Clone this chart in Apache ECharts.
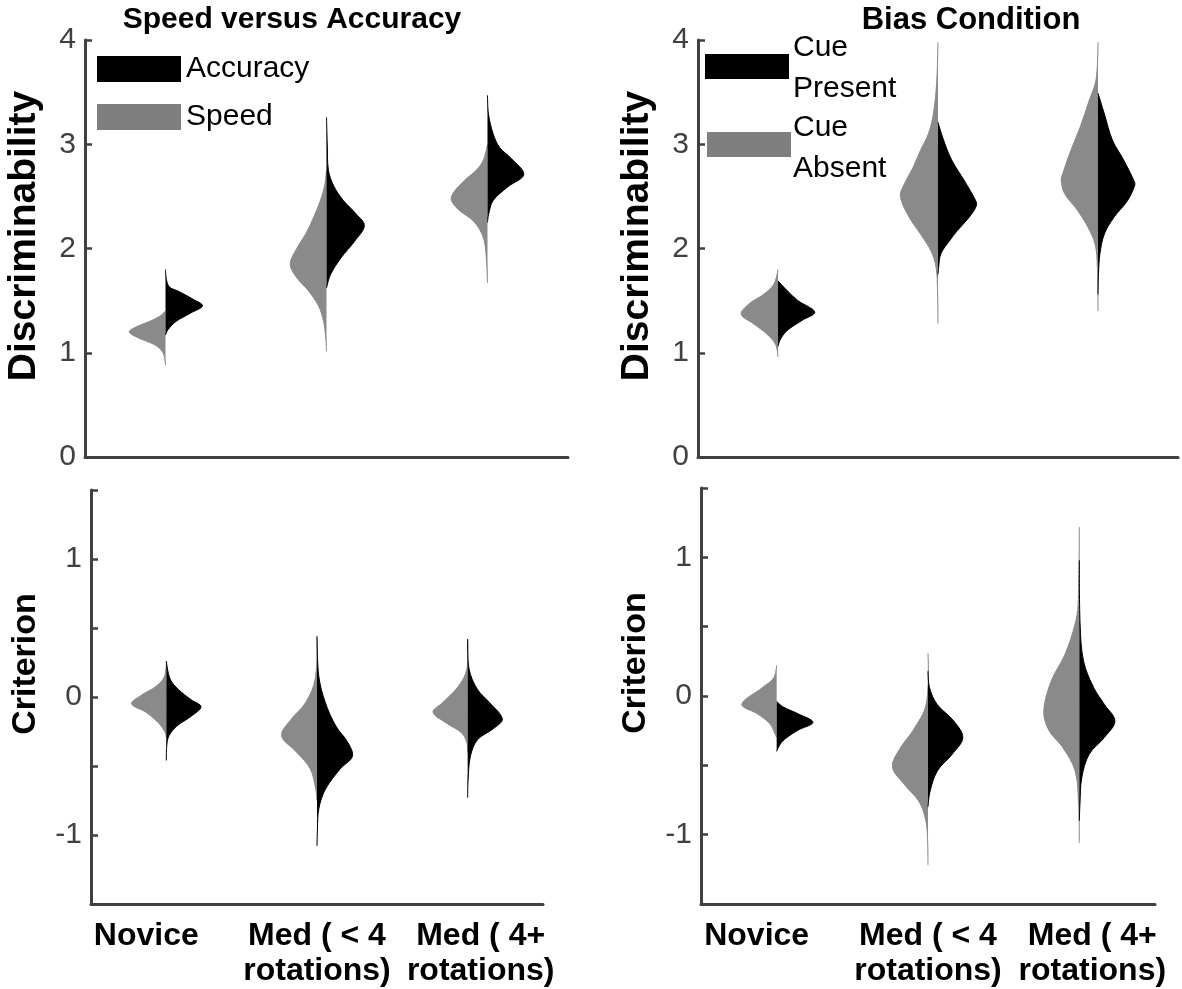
<!DOCTYPE html>
<html><head><meta charset="utf-8">
<script src="https://cdn.jsdelivr.net/npm/echarts@6/dist/echarts.min.js"></script>
<style>html,body{margin:0;padding:0;background:#fff}#c{width:1182px;height:989px}</style>
</head><body><div id="c"></div><script>
// ---------- data ----------
const categories = ['Novice', 'Med ( < 4\nrotations)', 'Med ( 4+\nrotations)'];
const panelTitles = ['Speed versus Accuracy', 'Bias Condition'];
const yNames = ['Discriminability', 'Criterion'];
const legendLeft = ['Accuracy', 'Speed'];
const legendRight = ['Cue\nPresent', 'Cue\nAbsent'];
const dTicks = [0, 1, 2, 3, 4];
const cTicks = [-1.5, -1, -0.5, 0, 0.5, 1, 1.5];

// Violin outlines: [value, half-width as fraction of category spacing]
const speedD = [
  [[1.40,0],[1.35,0.035],[1.30,0.10],[1.25,0.18],[1.20,0.225],[1.14,0.165],[1.09,0.085],[1.04,0.035],[0.98,0.01],[0.88,0]],
  [[2.75,0],[2.6,0.012],[2.45,0.04],[2.3,0.08],[2.15,0.125],[2.0,0.185],[1.85,0.225],[1.72,0.185],[1.6,0.115],[1.45,0.05],[1.3,0.018],[1.15,0.005],[1.01,0]],
  [[3.0,0],[2.85,0.025],[2.75,0.07],[2.65,0.145],[2.49,0.225],[2.38,0.185],[2.26,0.085],[2.1,0.025],[1.9,0.007],[1.67,0]]
];
const accuracyD = [
  [[1.80,0],[1.70,0.006],[1.63,0.025],[1.59,0.08],[1.51,0.175],[1.45,0.23],[1.38,0.155],[1.30,0.065],[1.22,0.015],[1.17,0]],
  [[3.26,0],[3.0,0.005],[2.75,0.012],[2.6,0.045],[2.46,0.105],[2.33,0.185],[2.22,0.235],[2.07,0.175],[1.91,0.09],[1.75,0.025],[1.62,0]],
  [[3.47,0],[3.29,0.006],[3.10,0.035],[2.97,0.075],[2.86,0.15],[2.71,0.225],[2.59,0.125],[2.46,0.035],[2.33,0.007],[2.25,0]]
];
const cueAbsentD = [
  [[1.80,0],[1.66,0.025],[1.56,0.09],[1.47,0.18],[1.37,0.23],[1.28,0.155],[1.18,0.07],[1.08,0.015],[0.96,0]],
  [[3.98,0],[3.6,0.008],[3.3,0.028],[3.1,0.06],[2.94,0.11],[2.78,0.155],[2.62,0.21],[2.5,0.235],[2.3,0.18],[2.14,0.11],[1.98,0.045],[1.82,0.012],[1.6,0.003],[1.28,0]],
  [[3.98,0],[3.62,0.012],[3.42,0.055],[3.17,0.11],[2.94,0.17],[2.72,0.22],[2.66,0.23],[2.53,0.21],[2.37,0.13],[2.21,0.065],[2.04,0.018],[1.82,0.004],[1.40,0]]
];
const cuePresentD = [
  [[1.69,0],[1.60,0.055],[1.50,0.125],[1.39,0.23],[1.31,0.15],[1.21,0.055],[1.12,0.012],[1.06,0]],
  [[3.21,0],[3.04,0.035],[2.85,0.085],[2.65,0.165],[2.46,0.235],[2.41,0.24],[2.30,0.195],[2.17,0.12],[2.08,0.075],[1.95,0.018],[1.82,0.004],[1.75,0]],
  [[3.49,0],[3.29,0.04],[3.04,0.09],[2.85,0.16],[2.65,0.225],[2.61,0.23],[2.46,0.185],[2.30,0.1],[2.14,0.04],[1.95,0.012],[1.76,0.003],[1.56,0]]
];
const speedC = [
  [[0.26,0],[0.15,0.012],[0.08,0.065],[0.01,0.17],[-0.05,0.23],[-0.11,0.135],[-0.19,0.05],[-0.26,0.006],[-0.30,0]],
  [[0.44,0],[0.13,0.012],[-0.04,0.075],[-0.16,0.17],[-0.28,0.235],[-0.40,0.135],[-0.52,0.045],[-0.67,0.008],[-0.75,0]],
  [[0.42,0],[0.2,0.006],[0.08,0.06],[-0.04,0.165],[-0.11,0.23],[-0.19,0.14],[-0.26,0.04],[-0.33,0.006],[-0.40,0]]
];
const accuracyC = [
  [[0.26,0],[0.13,0.025],[0.055,0.08],[-0.02,0.165],[-0.07,0.23],[-0.14,0.165],[-0.21,0.07],[-0.28,0.018],[-0.35,0.003],[-0.46,0]],
  [[0.44,0],[0.15,0.012],[-0.04,0.055],[-0.21,0.125],[-0.33,0.205],[-0.43,0.235],[-0.52,0.155],[-0.67,0.055],[-0.81,0.012],[-0.95,0.003],[-1.08,0]],
  [[0.42,0],[0.2,0.01],[0.055,0.065],[-0.04,0.145],[-0.16,0.23],[-0.23,0.17],[-0.31,0.065],[-0.43,0.018],[-0.6,0.003],[-0.73,0]]
];
const cueAbsentC = [
  [[0.22,0],[0.13,0.02],[0.06,0.095],[-0.06,0.23],[-0.13,0.125],[-0.20,0.045],[-0.28,0.008],[-0.30,0]],
  [[0.31,0],[-0.06,0.012],[-0.25,0.1],[-0.37,0.18],[-0.51,0.235],[-0.64,0.155],[-0.76,0.06],[-0.88,0.018],[-1.0,0.004],[-1.22,0]],
  [[1.22,0],[0.66,0.008],[0.52,0.028],[0.30,0.095],[0.11,0.185],[-0.11,0.235],[-0.25,0.2],[-0.37,0.11],[-0.54,0.028],[-0.78,0.005],[-1.06,0]]
];
const cuePresentC = [
  [[-0.04,0],[-0.08,0.045],[-0.13,0.145],[-0.19,0.24],[-0.25,0.135],[-0.33,0.035],[-0.40,0]],
  [[0.18,0],[0.06,0.01],[-0.06,0.06],[-0.18,0.17],[-0.30,0.23],[-0.42,0.16],[-0.54,0.062],[-0.69,0.013],[-0.80,0]],
  [[0.98,0],[0.52,0.005],[0.25,0.028],[0.06,0.095],[-0.06,0.165],[-0.18,0.235],[-0.30,0.165],[-0.42,0.065],[-0.59,0.016],[-0.78,0.004],[-0.90,0]]
];

// ---------- styling ----------
const GRAY = '#8a8a8a', BLACK = '#000000', AXIS = '#404040';
const FONT = '"Liberation Sans", Arial, Helvetica, sans-serif';

const chart = echarts.init(document.getElementById('c'));

const grids = [
  {left: 85, top: 40, width: 483, height: 417},
  {left: 698, top: 40, width: 480, height: 417},
  {left: 91, top: 490, width: 452, height: 414},
  {left: 701, top: 488, width: 454, height: 416}
];

const labelRich = {
  n: {fontFamily: FONT, fontWeight: 'bold', fontSize: 32, color: '#000', lineHeight: 35, padding: [0, 40, 0, 0]},
  m: {fontFamily: FONT, fontWeight: 'bold', fontSize: 32, color: '#000', lineHeight: 35},
  r: {fontFamily: FONT, fontWeight: 'bold', fontSize: 32, color: '#000', lineHeight: 35, padding: [0, 0, 0, 26]}
};
const labelKeys = ['n', 'm', 'r'];

function xAxisFor(gi, showLabels) {
  return {
    type: 'category', gridIndex: gi, data: categories, boundaryGap: true,
    axisLine: {show: true, onZero: false, lineStyle: {color: AXIS, width: 3}},
    axisTick: {show: false},
    axisLabel: {show: showLabels, interval: 0, margin: 15,
      formatter: function (v, idx) {
        const k = labelKeys[idx];
        return v.split('\n').map(s => '{' + k + '|' + s + '}').join('\n');
      },
      rich: labelRich},
    splitLine: {show: false}
  };
}
function yAxisFor(gi, isD) {
  return {
    type: 'value', gridIndex: gi,
    min: isD ? dTicks[0] : cTicks[0],
    max: isD ? dTicks[dTicks.length - 1] : cTicks[cTicks.length - 1],
    interval: isD ? 1 : 0.5,
    axisLine: {show: true, onZero: false, lineStyle: {color: AXIS, width: 3}},
    axisTick: {show: true, inside: true, length: 7, lineStyle: {color: AXIS, width: 2.5}},
    axisLabel: {color: AXIS, fontFamily: FONT, fontSize: 30, margin: 9,
      formatter: v => (isD || Number.isInteger(v)) ? String(v) : ''},
    splitLine: {show: false}
  };
}

function violin(profiles, side, color, gi) {
  return {
    type: 'custom', xAxisIndex: gi, yAxisIndex: gi,
    data: profiles.map((p, i) => [i, p[0][0]]),
    renderItem: function (params, api) {
      const i = params.dataIndex;
      const prof = profiles[i];
      const band = api.size([1, 0])[0];
      const cx = api.coord([i, 0])[0];
      const pts = prof.map(p => [cx + side * p[1] * band, api.coord([i, p[0]])[1]]);
      return {type: 'polyline', shape: {points: pts, smooth: 0.35},
        style: {fill: color, stroke: color, lineWidth: 1}};
    },
    silent: true, animation: false
  };
}

function vText(text, x, y, size) {
  return {type: 'text', x: x, y: y, rotation: Math.PI / 2,
    style: {text: text, font: 'bold ' + size + 'px ' + FONT, fill: '#000',
      textAlign: 'center', textVerticalAlign: 'middle'}};
}

const option = {
  animation: false,
  backgroundColor: '#fff',
  title: [
    {text: panelTitles[0], left: 287, top: 0, textAlign: 'center',
     textStyle: {fontFamily: FONT, fontWeight: 'bold', fontSize: 30, color: '#000'}},
    {text: panelTitles[1], left: 966, top: 0, textAlign: 'center',
     textStyle: {fontFamily: FONT, fontWeight: 'bold', fontSize: 31, color: '#000'}}
  ],
  grid: grids,
  xAxis: [xAxisFor(0, false), xAxisFor(1, false), xAxisFor(2, true), xAxisFor(3, true)],
  yAxis: [yAxisFor(0, true), yAxisFor(1, true), yAxisFor(2, false), yAxisFor(3, false)],
  series: [
    violin(speedD, -1, GRAY, 0), violin(accuracyD, 1, BLACK, 0),
    violin(cueAbsentD, -1, GRAY, 1), violin(cuePresentD, 1, BLACK, 1),
    violin(speedC, -1, GRAY, 2), violin(accuracyC, 1, BLACK, 2),
    violin(cueAbsentC, -1, GRAY, 3), violin(cuePresentC, 1, BLACK, 3)
  ],
  graphic: [
    vText(yNames[0], 24, 236, 39), vText(yNames[0], 637, 236, 39),
    vText(yNames[1], 26, 664, 34), vText(yNames[1], 636, 663, 34),
    {type: 'rect', shape: {x: 97, y: 56, width: 84, height: 26}, style: {fill: BLACK}},
    {type: 'text', x: 186, y: 69, style: {text: legendLeft[0], font: '30px ' + FONT, fill: '#000', textVerticalAlign: 'middle'}},
    {type: 'rect', shape: {x: 97, y: 104, width: 84, height: 26}, style: {fill: '#7f7f7f'}},
    {type: 'text', x: 186, y: 117, style: {text: legendLeft[1], font: '30px ' + FONT, fill: '#000', textVerticalAlign: 'middle'}},
    {type: 'rect', shape: {x: 705, y: 54, width: 84, height: 25}, style: {fill: BLACK}},
    {type: 'text', x: 793, y: 68, style: {text: legendRight[0], font: '30px ' + FONT, fill: '#000', lineHeight: 41, textVerticalAlign: 'middle'}},
    {type: 'rect', shape: {x: 707, y: 132, width: 84, height: 25}, style: {fill: '#7f7f7f'}},
    {type: 'text', x: 793, y: 148, style: {text: legendRight[1], font: '30px ' + FONT, fill: '#000', lineHeight: 41, textVerticalAlign: 'middle'}}
  ]
};
chart.setOption(option);
</script></body></html>
